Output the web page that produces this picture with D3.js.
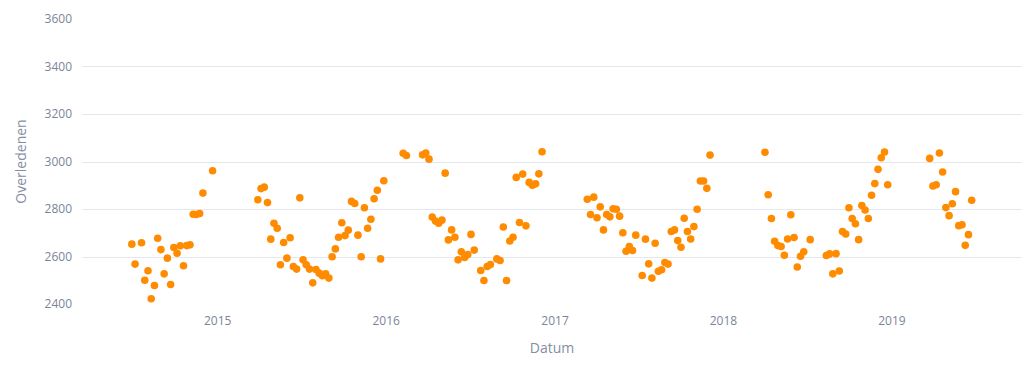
<!DOCTYPE html>
<html>
<head>
<meta charset="utf-8">
<script src="https://cdn.jsdelivr.net/npm/d3@7"></script>
<style>
  body { margin: 0; background: #fff; }
  svg { display: block; font-family: "Open Sans", sans-serif; }
</style>
</head>
<body>
<svg id="plot" width="1024" height="373"></svg>
<script>
// weekly deaths (CBS), ISO week numbers per year
const weeks2014 = [27, 28, 30, 31, 32, 33, 34, 35, 36, 37, 38, 39, 40, 41, 42, 43, 44, 45, 46, 47, 48, 49, 52]
const deaths2014 = [2652, 2568, 2658, 2500, 2540, 2422, 2478, 2677, 2629, 2527, 2593, 2482, 2638, 2614, 2645, 2561, 2646, 2649, 2778, 2777, 2781, 2867, 2961]

const weeks2015 = [14, 15, 16, 17, 18, 19, 20, 21, 22, 23, 24, 25, 26, 27, 28, 29, 30, 31, 32, 33, 34, 35, 36, 37, 38, 39, 40, 41, 42, 43, 44, 45, 46, 47, 48, 49, 50, 51, 52, 53]
const deaths2015 = [2839, 2886, 2892, 2827, 2673, 2740, 2719, 2565, 2659, 2593, 2679, 2558, 2547, 2847, 2586, 2565, 2547, 2489, 2545, 2530, 2519, 2527, 2509, 2599, 2632, 2681, 2742, 2688, 2711, 2832, 2823, 2690, 2599, 2805, 2719, 2757, 2843, 2879, 2590, 2919]

const weeks2016 = [6, 7, 12, 13, 14, 15, 16, 17, 18, 19, 20, 21, 22, 23, 24, 25, 26, 27, 28, 30, 31, 32, 33, 35, 36, 37, 38, 39, 40, 41, 42, 43, 44, 45, 46, 47, 48, 49]
const deaths2016 = [3035, 3025, 3028, 3036, 3010, 2766, 2749, 2740, 2753, 2951, 2670, 2712, 2681, 2586, 2620, 2596, 2608, 2693, 2627, 2541, 2499, 2558, 2566, 2590, 2583, 2724, 2499, 2665, 2681, 2933, 2743, 2947, 2729, 2912, 2900, 2906, 2948, 3041]

const weeks2017 = [11, 12, 13, 14, 15, 16, 17, 18, 19, 20, 21, 22, 23, 24, 25, 26, 28, 29, 30, 31, 32, 33, 34, 35, 36, 37, 38, 39, 40, 41, 42, 43, 44, 45, 46, 47, 48, 49]
const deaths2017 = [2841, 2777, 2850, 2763, 2809, 2712, 2777, 2767, 2801, 2799, 2770, 2700, 2622, 2642, 2625, 2690, 2520, 2673, 2569, 2509, 2656, 2538, 2544, 2575, 2568, 2705, 2712, 2667, 2639, 2761, 2705, 2674, 2726, 2799, 2918, 2918, 2887, 3027]

const weeks2018 = [14, 15, 16, 17, 18, 19, 20, 21, 22, 23, 24, 25, 26, 28, 33, 34, 35, 36, 37, 38, 39, 40, 41, 42, 43, 44, 45, 46, 47, 48, 49, 50, 51, 52]
const deaths2018 = [3039, 2860, 2760, 2664, 2646, 2642, 2605, 2674, 2776, 2680, 2556, 2601, 2620, 2671, 2604, 2611, 2527, 2612, 2539, 2705, 2695, 2805, 2760, 2738, 2671, 2815, 2796, 2760, 2858, 2907, 2967, 3016, 3040, 2902]

const weeks2019 = [13, 14, 15, 16, 17, 18, 19, 20, 21, 22, 23, 24, 25, 26]
const deaths2019 = [3013, 2897, 2902, 3036, 2956, 2806, 2772, 2822, 2873, 2730, 2734, 2647, 2692, 2837]

const yTicks = [2400, 2600, 2800, 3000, 3200, 3400, 3600]

// monday of an ISO week
const isoMonday = (year, week) => {
    const jan4 = new Date(Date.UTC(year, 0, 4))
    return d3.utcDay.offset(d3.utcMonday.floor(jan4), (week - 1) * 7)
}

const years = [
    [2014, weeks2014, deaths2014],
    [2015, weeks2015, deaths2015],
    [2016, weeks2016, deaths2016],
    [2017, weeks2017, deaths2017],
    [2018, weeks2018, deaths2018],
    [2019, weeks2019, deaths2019]
]
const data = years.flatMap(([yr, wk, vals]) =>
    wk.map((w, i) => ({ date: isoMonday(yr, w), value: vals[i] })))

const width = 1024
const height = 373
const margin = { top: 19, right: 2, bottom: 69, left: 82 }

const x = d3.scaleUtc()
    .domain([new Date(Date.UTC(2014, 2, 14)), new Date(Date.UTC(2019, 9, 11))])
    .range([margin.left, width - margin.right])

const y = d3.scaleLinear()
    .domain([2400, 3600])
    .range([height - margin.bottom, margin.top])

const svg = d3.select("#plot")

// horizontal grid
svg.append("g")
    .selectAll("line")
    .data(yTicks.slice(1, -1))
    .join("line")
    .attr("x1", margin.left)
    .attr("x2", width - margin.right)
    .attr("y1", d => Math.round(y(d)) + 0.5)
    .attr("y2", d => Math.round(y(d)) + 0.5)
    .attr("stroke", "#e3e7ef")
    .attr("stroke-width", 1)

const xAxis = g => g
    .attr("transform", `translate(0,${height - margin.bottom})`)
    .call(d3.axisBottom(x).ticks(d3.utcYear.every(1)).tickFormat(d3.utcFormat("%Y")).tickSize(0).tickPadding(12))
    .call(g => g.select(".domain").remove())

const yAxis = g => g
    .attr("transform", `translate(${margin.left},0)`)
    .call(d3.axisLeft(y).tickValues(yTicks).tickFormat(d3.format("d")).tickSize(0).tickPadding(10))
    .call(g => g.select(".domain").remove())

svg.append("g").call(xAxis)
    .selectAll("text")
    .attr("fill", "#7b859a")
    .attr("font-size", 12)
    .attr("font-family", "Open Sans, sans-serif")

svg.append("g").call(yAxis)
    .selectAll("text")
    .attr("fill", "#7b859a")
    .attr("font-size", 12)
    .attr("font-family", "Open Sans, sans-serif")

// axis titles
svg.append("text")
    .attr("x", (margin.left + width - margin.right) / 2)
    .attr("y", 353)
    .attr("text-anchor", "middle")
    .attr("fill", "#858da3")
    .attr("font-size", 14)
    .text("Datum")

svg.append("text")
    .attr("transform", `translate(26,${(margin.top + height - margin.bottom) / 2}) rotate(-90)`)
    .attr("text-anchor", "middle")
    .attr("fill", "#858da3")
    .attr("font-size", 14)
    .text("Overledenen")

svg.append("g")
    .selectAll("circle")
    .data(data)
    .join("circle")
    .attr("cx", d => x(d.date))
    .attr("cy", d => y(d.value))
    .attr("r", 3.8)
    .attr("fill", "#ff8c00")
</script>
</body>
</html>
